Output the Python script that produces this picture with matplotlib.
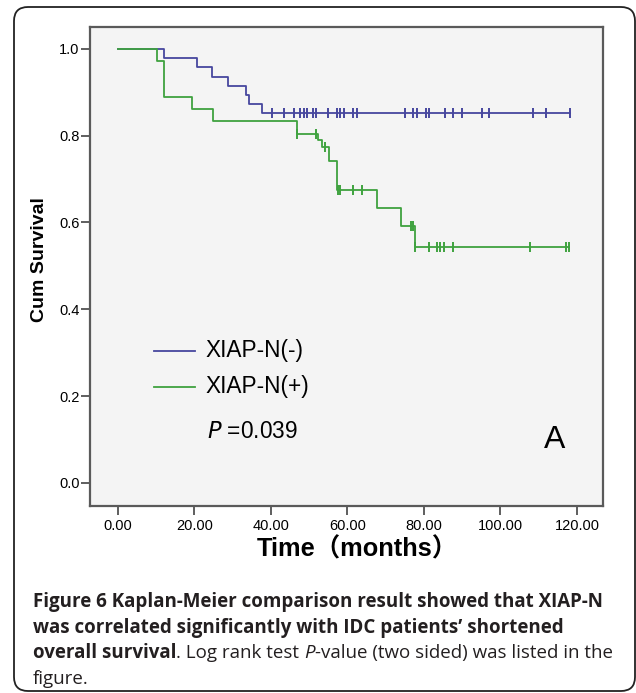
import matplotlib
matplotlib.use("Agg")
import numpy as np
import matplotlib.pyplot as plt
from matplotlib.patches import FancyBboxPatch

# XIAP-N(-) group: time of each drop and survival after it
neg_times = [0, 12.0, 20.55, 24.7, 28.8, 33.6, 34.35, 37.6]
neg_surv = [1.0, 0.979, 0.958, 0.936, 0.915, 0.894, 0.872, 0.851]
neg_end = 118.2
neg_censor = [40.2, 43.5, 45.9, 47.7, 48.6, 49.5, 51.1, 51.9, 55.0, 57.2, 58.0,
              59.1, 61.5, 62.4, 75.0, 77.2, 78.1, 80.5, 81.4, 85.5, 87.7, 89.9,
              95.1, 97.1, 108.6, 111.9, 118.2]

# XIAP-N(+) group
pos_times = [0, 10.1, 12.0, 19.3, 24.9, 46.7, 52.3, 53.3, 55.2, 57.25, 67.7, 73.9, 77.6]
pos_surv = [1.0, 0.972, 0.889, 0.861, 0.833, 0.804, 0.79, 0.773, 0.742, 0.675,
            0.634, 0.592, 0.543]
pos_end = 118.0
pos_censor = [46.7, 51.9, 54.1, 57.4, 58.0, 61.5, 63.7, 76.6, 77.2, 77.6, 81.4,
              83.5, 84.3, 85.2, 87.7, 107.7, 117.1, 118.0]

labels = ["XIAP-N(-)", "XIAP-N(+)"]
p_value = "0.039"
x_ticks = [0, 20, 40, 60, 80, 100, 120]
y_ticks = [0.0, 0.2, 0.4, 0.6, 0.8, 1.0]

BLUE = "#47479e"
GREEN = "#3fa23f"
AX_FONT = "Liberation Sans"

W, H = 636, 693
fig = plt.figure(figsize=(W / 100, H / 100), dpi=100)
fig.patch.set_facecolor("white")

# outer rounded frame
frame = FancyBboxPatch((0.14, 0.02), 6.21, 6.84, boxstyle="round,pad=0,rounding_size=0.14",
                       transform=fig.dpi_scale_trans, fill=False, ec="#222222", lw=1.3)
fig.add_artist(frame)

AX_L, AX_R, AX_T, AX_B = 90, 603, 27, 506
ax = fig.add_axes([AX_L / W, 1 - AX_B / H, (AX_R - AX_L) / W, (AX_B - AX_T) / H])
ax.set_facecolor("#f4f4f4")


def km_step(ax, times, surv, end, censor, color):
    t = list(times) + [end]
    s = list(surv) + [surv[-1]]
    ax.step(t, s, where="post", color=color, lw=1.3)
    idx = np.searchsorted(times, censor, side="right") - 1
    cs = np.array(surv)[idx]
    ax.plot(censor, cs, ls="none", marker="|", ms=7, mew=1.4, color=color)


km_step(ax, neg_times, neg_surv, neg_end, neg_censor, BLUE)
km_step(ax, pos_times, pos_surv, pos_end, pos_censor, GREEN)

ax.set_xlim(-7.3, 126.8)
ax.set_ylim(-0.053, 1.05)
ax.set_xticks(x_ticks)
ax.set_xticklabels([f"{v:.2f}" for v in x_ticks], fontsize=10.5, family=AX_FONT)
ax.set_yticks(y_ticks)
ax.set_yticklabels([f"{v:.1f}" for v in y_ticks], fontsize=10.5, family=AX_FONT)
ax.tick_params(direction="out", length=6.5, width=1.1, color="#333333", pad=1)
ax.tick_params(axis="x", pad=2.5)
for sp in ax.spines.values():
    sp.set_color("#5a5a5a")
    sp.set_linewidth(1.6)


def axfrac(px, py):
    return (px - AX_L) / (AX_R - AX_L), (AX_B - py) / (AX_B - AX_T)


# legend drawn by hand
for lab, col, py in zip(labels, [BLUE, GREEN], [351, 387]):
    x0, y0 = axfrac(154, py)
    x1, _ = axfrac(195, py)
    ax.plot([x0, x1], [y0, y0], color=col, lw=1.3, transform=ax.transAxes)
    tx, _ = axfrac(205, py)
    ax.text(tx, y0, lab, fontsize=16.3, family=AX_FONT, va="center", transform=ax.transAxes)
px_, py_ = axfrac(207, 432)
ax.text(px_, py_, "$P$ =" + p_value, fontsize=16.3, family=AX_FONT, va="center",
        transform=ax.transAxes)
ax_, ay_ = axfrac(555, 440)
ax.text(ax_, ay_, "A", fontsize=23, family=AX_FONT, ha="center", va="center",
        transform=ax.transAxes)

fig.text(39 / W, 1 - 260 / H, "Cum Survival", rotation=90, ha="center", va="center",
         fontsize=14, fontweight="bold", family=AX_FONT)
fig.text(357 / W, 1 - 549 / H, "Time（months）", ha="center", va="center",
         fontsize=18.3, fontweight="bold", family=[AX_FONT, "Noto Sans CJK SC"])

# caption, drawn piece by piece
caption = [
    [("Figure 6 Kaplan-Meier comparison result showed that XIAP-N", "bold", "normal")],
    [("was correlated significantly with IDC patients\u2019 shortened", "bold", "normal")],
    [("overall survival", "bold", "normal"), (". Log rank test ", "normal", "normal"),
     ("P", "normal", "italic"), ("-value (two sided) was listed in the", "normal", "normal")],
    [("figure.", "normal", "normal")],
]
cap_font = "Open Sans"
cap_size = 13.5
baselines = [607, 633, 658, 684]
renderer = fig.canvas.get_renderer()
for line, yb in zip(caption, baselines):
    x = 33.0
    for txt, wt, st in line:
        t = fig.text(x / W, 1 - yb / H, txt, fontsize=cap_size, family=cap_font,
                     fontweight=wt, fontstyle=st, va="baseline", ha="left", color="#231f20")
        bb = t.get_window_extent(renderer)
        x += bb.width

fig.savefig("out.png", dpi=100)
